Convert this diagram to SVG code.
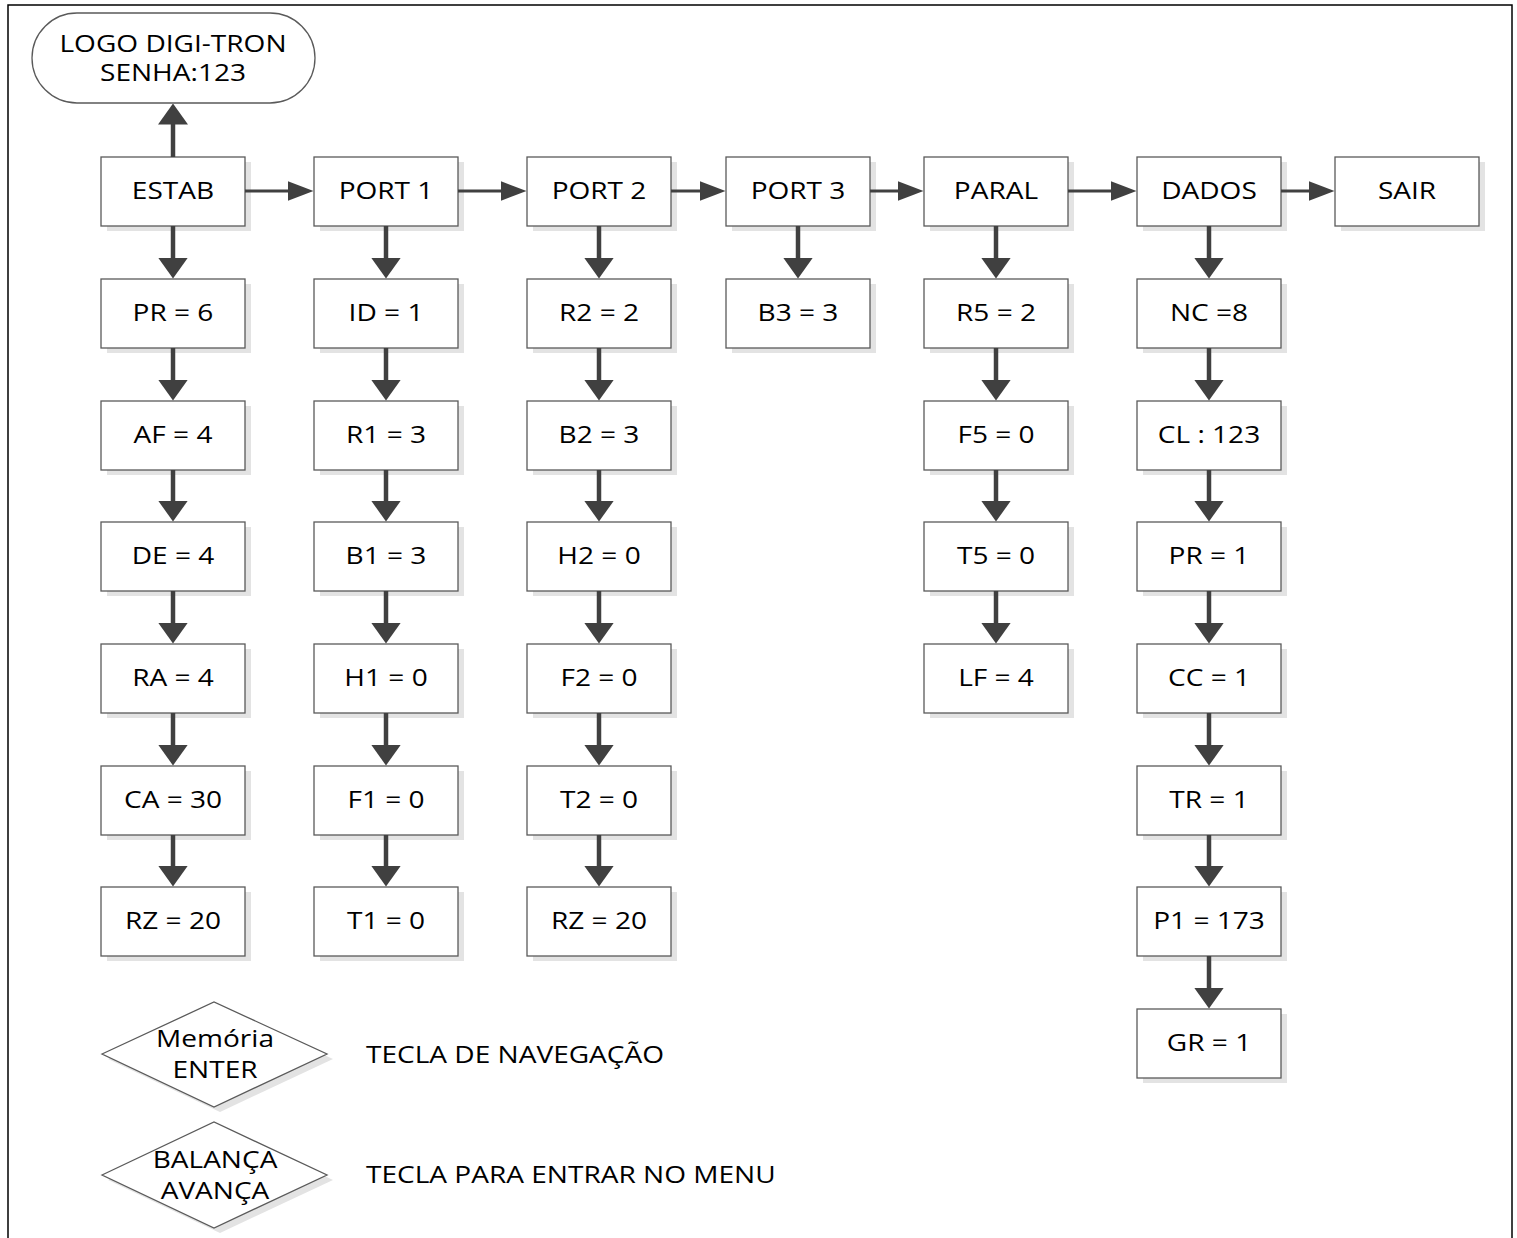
<svg xmlns="http://www.w3.org/2000/svg" width="1517" height="1238" viewBox="0 0 1517 1238">
<style>
.box{fill:#ffffff;stroke:#5a5a5a;stroke-width:1.3}
.sh{fill:#e3e3e3;stroke:none}
.t{font-family:"Open Sans","Liberation Sans",sans-serif;font-size:23px;fill:#000;text-anchor:middle}
.l{font-family:"Open Sans","Liberation Sans",sans-serif;font-size:23px;fill:#000;text-anchor:start}
.v{stroke:#404040;stroke-width:4.5;fill:none;marker-end:url(#av)}
.h{stroke:#404040;stroke-width:3;fill:none;marker-end:url(#ah)}
</style>
<defs>
<marker id="av" markerUnits="userSpaceOnUse" viewBox="0 0 21 30" refX="0.5" refY="15" markerWidth="21" markerHeight="30" orient="auto"><path d="M0,0 L21,15 L0,30 Z" fill="#404040"/></marker>
<marker id="ah" markerUnits="userSpaceOnUse" viewBox="0 0 26 20" refX="0.5" refY="10" markerWidth="26" markerHeight="20" orient="auto"><path d="M0,0 L26,10 L0,20 Z" fill="#404040"/></marker>
</defs>
<rect x="8" y="5" width="1504" height="1260" fill="#ffffff" stroke="#000" stroke-width="1.5"/>

<g id="logo">
<rect x="32" y="13" width="283" height="90" rx="45" ry="45" class="box"/>
<text class="t" transform="translate(173,52) scale(1.22,1)">LOGO DIGI-TRON</text>
<text class="t" transform="translate(173,81) scale(1.22,1)">SENHA:123</text>
</g>

<!-- top row -->
<g id="estab"><rect class="sh" x="107" y="162" width="144" height="69"/><rect class="box" x="101" y="157" width="144" height="69"/><text class="t" transform="translate(173,199) scale(1.22,1)">ESTAB</text></g>
<g id="port1"><rect class="sh" x="320" y="162" width="144" height="69"/><rect class="box" x="314" y="157" width="144" height="69"/><text class="t" transform="translate(386,199) scale(1.22,1)">PORT 1</text></g>
<g id="port2"><rect class="sh" x="533" y="162" width="144" height="69"/><rect class="box" x="527" y="157" width="144" height="69"/><text class="t" transform="translate(599,199) scale(1.22,1)">PORT 2</text></g>
<g id="port3"><rect class="sh" x="732" y="162" width="144" height="69"/><rect class="box" x="726" y="157" width="144" height="69"/><text class="t" transform="translate(798,199) scale(1.22,1)">PORT 3</text></g>
<g id="paral"><rect class="sh" x="930" y="162" width="144" height="69"/><rect class="box" x="924" y="157" width="144" height="69"/><text class="t" transform="translate(996,199) scale(1.22,1)">PARAL</text></g>
<g id="dados"><rect class="sh" x="1143" y="162" width="144" height="69"/><rect class="box" x="1137" y="157" width="144" height="69"/><text class="t" transform="translate(1209,199) scale(1.22,1)">DADOS</text></g>
<g id="sair"><rect class="sh" x="1341" y="162" width="144" height="69"/><rect class="box" x="1335" y="157" width="144" height="69"/><text class="t" transform="translate(1407,199) scale(1.22,1)">SAIR</text></g>

<!-- ESTAB column -->
<g id="estab-pr"><rect class="sh" x="107" y="284" width="144" height="69"/><rect class="box" x="101" y="279" width="144" height="69"/><text class="t" transform="translate(173,321) scale(1.22,1)">PR = 6</text></g>
<g id="estab-af"><rect class="sh" x="107" y="406" width="144" height="69"/><rect class="box" x="101" y="401" width="144" height="69"/><text class="t" transform="translate(173,443) scale(1.22,1)">AF = 4</text></g>
<g id="estab-de"><rect class="sh" x="107" y="527" width="144" height="69"/><rect class="box" x="101" y="522" width="144" height="69"/><text class="t" transform="translate(173,564) scale(1.22,1)">DE = 4</text></g>
<g id="estab-ra"><rect class="sh" x="107" y="649" width="144" height="69"/><rect class="box" x="101" y="644" width="144" height="69"/><text class="t" transform="translate(173,686) scale(1.22,1)">RA = 4</text></g>
<g id="estab-ca"><rect class="sh" x="107" y="771" width="144" height="69"/><rect class="box" x="101" y="766" width="144" height="69"/><text class="t" transform="translate(173,808) scale(1.22,1)">CA = 30</text></g>
<g id="estab-rz"><rect class="sh" x="107" y="892" width="144" height="69"/><rect class="box" x="101" y="887" width="144" height="69"/><text class="t" transform="translate(173,929) scale(1.22,1)">RZ = 20</text></g>

<!-- PORT 1 column -->
<g id="p1-id"><rect class="sh" x="320" y="284" width="144" height="69"/><rect class="box" x="314" y="279" width="144" height="69"/><text class="t" transform="translate(386,321) scale(1.22,1)">ID = 1</text></g>
<g id="p1-r1"><rect class="sh" x="320" y="406" width="144" height="69"/><rect class="box" x="314" y="401" width="144" height="69"/><text class="t" transform="translate(386,443) scale(1.22,1)">R1 = 3</text></g>
<g id="p1-b1"><rect class="sh" x="320" y="527" width="144" height="69"/><rect class="box" x="314" y="522" width="144" height="69"/><text class="t" transform="translate(386,564) scale(1.22,1)">B1 = 3</text></g>
<g id="p1-h1"><rect class="sh" x="320" y="649" width="144" height="69"/><rect class="box" x="314" y="644" width="144" height="69"/><text class="t" transform="translate(386,686) scale(1.22,1)">H1 = 0</text></g>
<g id="p1-f1"><rect class="sh" x="320" y="771" width="144" height="69"/><rect class="box" x="314" y="766" width="144" height="69"/><text class="t" transform="translate(386,808) scale(1.22,1)">F1 = 0</text></g>
<g id="p1-t1"><rect class="sh" x="320" y="892" width="144" height="69"/><rect class="box" x="314" y="887" width="144" height="69"/><text class="t" transform="translate(386,929) scale(1.22,1)">T1 = 0</text></g>

<!-- PORT 2 column -->
<g id="p2-r2"><rect class="sh" x="533" y="284" width="144" height="69"/><rect class="box" x="527" y="279" width="144" height="69"/><text class="t" transform="translate(599,321) scale(1.22,1)">R2 = 2</text></g>
<g id="p2-b2"><rect class="sh" x="533" y="406" width="144" height="69"/><rect class="box" x="527" y="401" width="144" height="69"/><text class="t" transform="translate(599,443) scale(1.22,1)">B2 = 3</text></g>
<g id="p2-h2"><rect class="sh" x="533" y="527" width="144" height="69"/><rect class="box" x="527" y="522" width="144" height="69"/><text class="t" transform="translate(599,564) scale(1.22,1)">H2 = 0</text></g>
<g id="p2-f2"><rect class="sh" x="533" y="649" width="144" height="69"/><rect class="box" x="527" y="644" width="144" height="69"/><text class="t" transform="translate(599,686) scale(1.22,1)">F2 = 0</text></g>
<g id="p2-t2"><rect class="sh" x="533" y="771" width="144" height="69"/><rect class="box" x="527" y="766" width="144" height="69"/><text class="t" transform="translate(599,808) scale(1.22,1)">T2 = 0</text></g>
<g id="p2-rz"><rect class="sh" x="533" y="892" width="144" height="69"/><rect class="box" x="527" y="887" width="144" height="69"/><text class="t" transform="translate(599,929) scale(1.22,1)">RZ = 20</text></g>

<!-- PORT 3 column -->
<g id="p3-b3"><rect class="sh" x="732" y="284" width="144" height="69"/><rect class="box" x="726" y="279" width="144" height="69"/><text class="t" transform="translate(798,321) scale(1.22,1)">B3 = 3</text></g>

<!-- PARAL column -->
<g id="pa-r5"><rect class="sh" x="930" y="284" width="144" height="69"/><rect class="box" x="924" y="279" width="144" height="69"/><text class="t" transform="translate(996,321) scale(1.22,1)">R5 = 2</text></g>
<g id="pa-f5"><rect class="sh" x="930" y="406" width="144" height="69"/><rect class="box" x="924" y="401" width="144" height="69"/><text class="t" transform="translate(996,443) scale(1.22,1)">F5 = 0</text></g>
<g id="pa-t5"><rect class="sh" x="930" y="527" width="144" height="69"/><rect class="box" x="924" y="522" width="144" height="69"/><text class="t" transform="translate(996,564) scale(1.22,1)">T5 = 0</text></g>
<g id="pa-lf"><rect class="sh" x="930" y="649" width="144" height="69"/><rect class="box" x="924" y="644" width="144" height="69"/><text class="t" transform="translate(996,686) scale(1.22,1)">LF = 4</text></g>

<!-- DADOS column -->
<g id="d-nc"><rect class="sh" x="1143" y="284" width="144" height="69"/><rect class="box" x="1137" y="279" width="144" height="69"/><text class="t" transform="translate(1209,321) scale(1.22,1)">NC =8</text></g>
<g id="d-cl"><rect class="sh" x="1143" y="406" width="144" height="69"/><rect class="box" x="1137" y="401" width="144" height="69"/><text class="t" transform="translate(1209,443) scale(1.22,1)">CL : 123</text></g>
<g id="d-pr"><rect class="sh" x="1143" y="527" width="144" height="69"/><rect class="box" x="1137" y="522" width="144" height="69"/><text class="t" transform="translate(1209,564) scale(1.22,1)">PR = 1</text></g>
<g id="d-cc"><rect class="sh" x="1143" y="649" width="144" height="69"/><rect class="box" x="1137" y="644" width="144" height="69"/><text class="t" transform="translate(1209,686) scale(1.22,1)">CC = 1</text></g>
<g id="d-tr"><rect class="sh" x="1143" y="771" width="144" height="69"/><rect class="box" x="1137" y="766" width="144" height="69"/><text class="t" transform="translate(1209,808) scale(1.22,1)">TR = 1</text></g>
<g id="d-p1"><rect class="sh" x="1143" y="892" width="144" height="69"/><rect class="box" x="1137" y="887" width="144" height="69"/><text class="t" transform="translate(1209,929) scale(1.22,1)">P1 = 173</text></g>
<g id="d-gr"><rect class="sh" x="1143" y="1014" width="144" height="69"/><rect class="box" x="1137" y="1009" width="144" height="69"/><text class="t" transform="translate(1209,1051) scale(1.22,1)">GR = 1</text></g>

<!-- legend -->
<g id="legend-enter">
<polygon class="sh" points="108,1059 220,1007 333,1059 220,1112"/>
<polygon class="box" points="102,1054 214,1002 327,1054 214,1107"/>
<text class="t" transform="translate(215,1047) scale(1.22,1)">Memória</text>
<text class="t" transform="translate(215,1078) scale(1.22,1)">ENTER</text>
</g>
<g id="legend-enter-label"><text class="l" transform="translate(366,1063) scale(1.22,1)">TECLA DE NAVEGAÇÃO</text></g>
<g id="legend-balanca">
<polygon class="sh" points="108,1180 220,1127 333,1180 220,1233"/>
<polygon class="box" points="102,1175 214,1122 327,1175 214,1228"/>
<text class="t" transform="translate(215,1168) scale(1.22,1)">BALANÇA</text>
<text class="t" transform="translate(215,1199) scale(1.22,1)">AVANÇA</text>
</g>
<g id="legend-balanca-label"><text class="l" transform="translate(366,1183) scale(1.22,1)">TECLA PARA ENTRAR NO MENU</text></g>

<g id="connectors">
<path class="v" d="M173,157 V124"/>
<path class="h" d="M245,191 H288"/>
<path class="h" d="M458,191 H501"/>
<path class="h" d="M671,191 H700"/>
<path class="h" d="M870,191 H898"/>
<path class="h" d="M1068,191 H1111"/>
<path class="h" d="M1281,191 H1309"/>
<path class="v" d="M173,226 V258"/>
<path class="v" d="M173,348 V380"/>
<path class="v" d="M173,470 V501"/>
<path class="v" d="M173,591 V623"/>
<path class="v" d="M173,713 V745"/>
<path class="v" d="M173,835 V866"/>
<path class="v" d="M386,226 V258"/>
<path class="v" d="M386,348 V380"/>
<path class="v" d="M386,470 V501"/>
<path class="v" d="M386,591 V623"/>
<path class="v" d="M386,713 V745"/>
<path class="v" d="M386,835 V866"/>
<path class="v" d="M599,226 V258"/>
<path class="v" d="M599,348 V380"/>
<path class="v" d="M599,470 V501"/>
<path class="v" d="M599,591 V623"/>
<path class="v" d="M599,713 V745"/>
<path class="v" d="M599,835 V866"/>
<path class="v" d="M798,226 V258"/>
<path class="v" d="M996,226 V258"/>
<path class="v" d="M996,348 V380"/>
<path class="v" d="M996,470 V501"/>
<path class="v" d="M996,591 V623"/>
<path class="v" d="M1209,226 V258"/>
<path class="v" d="M1209,348 V380"/>
<path class="v" d="M1209,470 V501"/>
<path class="v" d="M1209,591 V623"/>
<path class="v" d="M1209,713 V745"/>
<path class="v" d="M1209,835 V866"/>
<path class="v" d="M1209,956 V988"/>
</g>
</svg>
